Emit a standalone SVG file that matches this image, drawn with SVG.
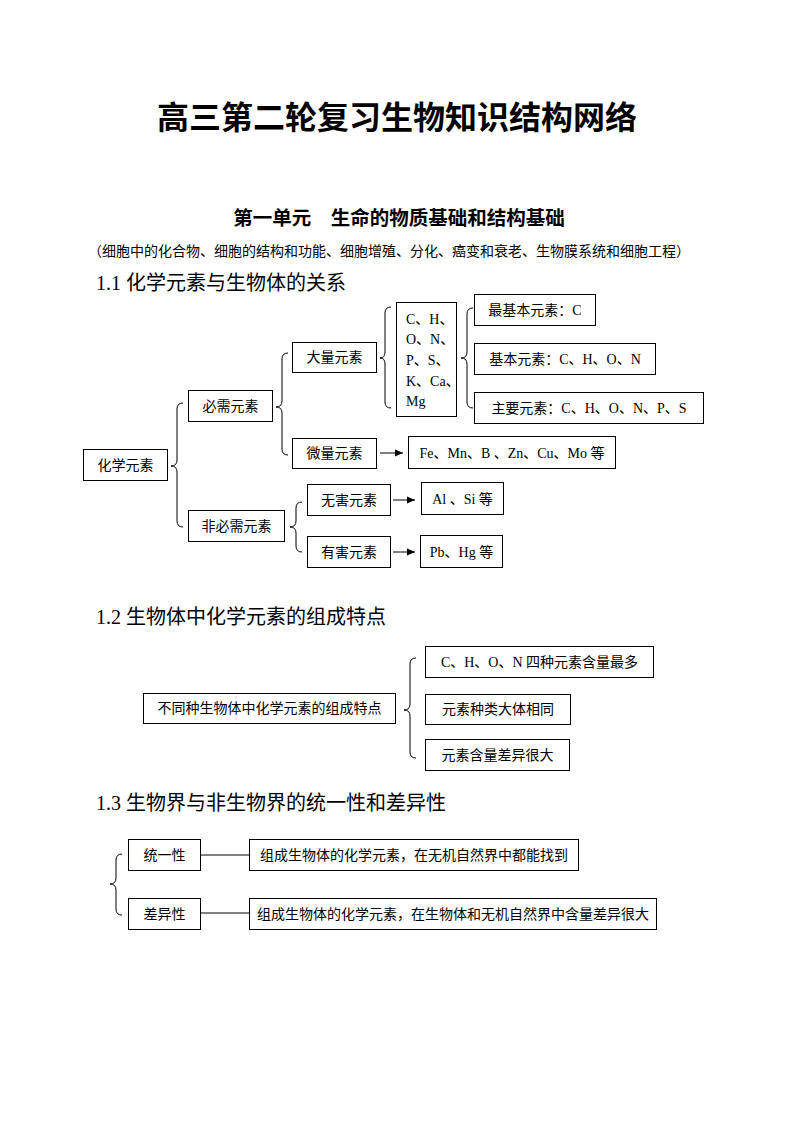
<svg xmlns="http://www.w3.org/2000/svg" width="794" height="1123" viewBox="0 0 794 1123">
<defs>
<style>
.bx{fill:#fff;stroke:#000;stroke-width:1}
.t{font-family:"Liberation Serif","Noto Sans CJK SC",serif;font-size:14px;fill:#000;text-anchor:middle}
.tl{font-family:"Liberation Serif","Noto Sans CJK SC",serif;font-size:14px;fill:#000}
.h{font-family:"Liberation Serif","Noto Sans CJK SC",serif;font-size:20px;fill:#000}
.br{fill:none;stroke:#000;stroke-width:1}
.ln{fill:none;stroke:#000;stroke-width:1}
</style>
<marker id="ah" viewBox="0 0 8 8" refX="8" refY="4" markerWidth="8" markerHeight="8" markerUnits="userSpaceOnUse" orient="auto">
<path d="M0,0.5 L8,4 L0,7.5 Z" fill="#000"/>
</marker>
</defs>
<rect width="794" height="1123" fill="#fff"/>

<text x="397" y="129" font-family="'Noto Sans CJK SC',sans-serif" font-size="32" font-weight="700" text-anchor="middle">高三第二轮复习生物知识结构网络</text>
<text x="399" y="225" font-family="'Noto Sans CJK SC',sans-serif" font-size="19.5" font-weight="700" text-anchor="middle">第一单元　生命的物质基础和结构基础</text>
<text x="389" y="256" font-family="'Noto Sans CJK SC',sans-serif" font-size="14" text-anchor="middle">（细胞中的化合物、细胞的结构和功能、细胞增殖、分化、癌变和衰老、生物膜系统和细胞工程）</text>
<text class="h" x="96" y="290">1.1 化学元素与生物体的关系</text>
<text class="h" x="96" y="624">1.2 生物体中化学元素的组成特点</text>
<text class="h" x="96" y="810">1.3 生物界与非生物界的统一性和差异性</text>

<g id="connectors">
<path class="br" d="M183,403 Q177,403 177,409 L177,460 Q177,466 171,466 Q177,466 177,472 L177,521 Q177,527 183,527"/>
<path class="br" d="M288,353 Q282,353 282,359 L282,401 Q282,407 276,407 Q282,407 282,413 L282,449 Q282,455 288,455"/>
<path class="br" d="M391,307 Q385,307 385,313 L385,352 Q385,358 380,358 Q385,358 385,364 L385,402 Q385,408 391,408"/>
<path class="br" d="M473,308 Q467,308 467,314 L467,352 Q467,358 461,358 Q467,358 467,364 L467,402 Q467,408 473,408"/>
<path class="br" d="M302,502 Q296,502 296,508 L296,521 Q296,527 290,527 Q296,527 296,533 L296,546 Q296,552 302,552"/>
<path class="br" d="M416,658 Q410,658 410,664 L410,704 Q410,710 404,710 Q410,710 410,716 L410,752 Q410,758 416,758"/>
<path class="br" d="M122,854 Q116,854 116,860 L116,878 Q116,884 110,884 Q116,884 116,890 L116,909 Q116,915 122,915"/>
<line class="ln" x1="380" y1="453" x2="403" y2="453" marker-end="url(#ah)"/>
<line class="ln" x1="393" y1="500" x2="415" y2="500" marker-end="url(#ah)"/>
<line class="ln" x1="393" y1="552" x2="415" y2="552" marker-end="url(#ah)"/>
<line class="ln" x1="200" y1="855" x2="249" y2="855"/>
<line class="ln" x1="200" y1="913" x2="249" y2="913"/>
</g>

<g id="n-huaxue"><rect class="bx" x="83.5" y="449.5" width="84" height="31"/><text class="t" x="125.5" y="470">化学元素</text></g>
<g id="n-bixu"><rect class="bx" x="188.5" y="390.5" width="84" height="31"/><text class="t" x="230.5" y="411">必需元素</text></g>
<g id="n-feibixu"><rect class="bx" x="188.5" y="510.5" width="96" height="31"/><text class="t" x="236.5" y="531">非必需元素</text></g>
<g id="n-daliang"><rect class="bx" x="292.5" y="342.5" width="84" height="30"/><text class="t" x="334.5" y="362">大量元素</text></g>
<g id="n-weiliang"><rect class="bx" x="292.5" y="438.5" width="84" height="30"/><text class="t" x="334.5" y="458">微量元素</text></g>
<g id="n-chon"><rect class="bx" x="396.5" y="302.5" width="60" height="114"/>
<text class="tl" x="406" y="324">C、H、</text>
<text class="tl" x="406" y="344">O、N、</text>
<text class="tl" x="406" y="365">P、S、</text>
<text class="tl" x="406" y="386">K、Ca、</text>
<text class="tl" x="406" y="406">Mg</text></g>
<g id="n-zuijiben"><rect class="bx" x="474.5" y="294.5" width="121" height="31"/><text class="t" x="535" y="315">最基本元素：C</text></g>
<g id="n-jiben"><rect class="bx" x="474.5" y="343.5" width="181" height="31"/><text class="t" x="565" y="364">基本元素：C、H、O、N</text></g>
<g id="n-zhuyao"><rect class="bx" x="474.5" y="392.5" width="229" height="31"/><text class="t" x="589" y="413">主要元素：C、H、O、N、P、S</text></g>
<g id="n-fe"><rect class="bx" x="408.5" y="436.5" width="207" height="32"/><text class="t" x="512" y="458">Fe、Mn、B 、Zn、Cu、Mo 等</text></g>
<g id="n-wuhai"><rect class="bx" x="307.5" y="484.5" width="83" height="31"/><text class="t" x="349" y="505">无害元素</text></g>
<g id="n-youhai"><rect class="bx" x="307.5" y="536.5" width="83" height="31"/><text class="t" x="349" y="557">有害元素</text></g>
<g id="n-alsi"><rect class="bx" x="421.5" y="482.5" width="82" height="32"/><text class="t" x="462.5" y="504">Al 、Si 等</text></g>
<g id="n-pbhg"><rect class="bx" x="420.5" y="535.5" width="82" height="32"/><text class="t" x="461.5" y="557">Pb、Hg 等</text></g>

<g id="n-butong"><rect class="bx" x="143.5" y="693.5" width="252" height="30"/><text class="t" x="269.5" y="713">不同种生物体中化学元素的组成特点</text></g>
<g id="n-chon4"><rect class="bx" x="425.5" y="646.5" width="228" height="31"/><text class="t" x="539.5" y="667">C、H、O、N 四种元素含量最多</text></g>
<g id="n-zhonglei"><rect class="bx" x="425.5" y="694.5" width="145" height="30"/><text class="t" x="498" y="714">元素种类大体相同</text></g>
<g id="n-hanliang"><rect class="bx" x="425.5" y="739.5" width="144" height="31"/><text class="t" x="497.5" y="760">元素含量差异很大</text></g>

<g id="n-tongyi"><rect class="bx" x="128.5" y="839.5" width="72" height="31"/><text class="t" x="164.5" y="860">统一性</text></g>
<g id="n-chayi"><rect class="bx" x="128.5" y="898.5" width="72" height="31"/><text class="t" x="164.5" y="919">差异性</text></g>
<g id="n-tongyi-d"><rect class="bx" x="249.5" y="839.5" width="329" height="31"/><text class="t" x="414" y="860">组成生物体的化学元素，在无机自然界中都能找到</text></g>
<g id="n-chayi-d"><rect class="bx" x="249.5" y="898.5" width="407" height="31"/><text class="t" x="453" y="919">组成生物体的化学元素，在生物体和无机自然界中含量差异很大</text></g>
</svg>
